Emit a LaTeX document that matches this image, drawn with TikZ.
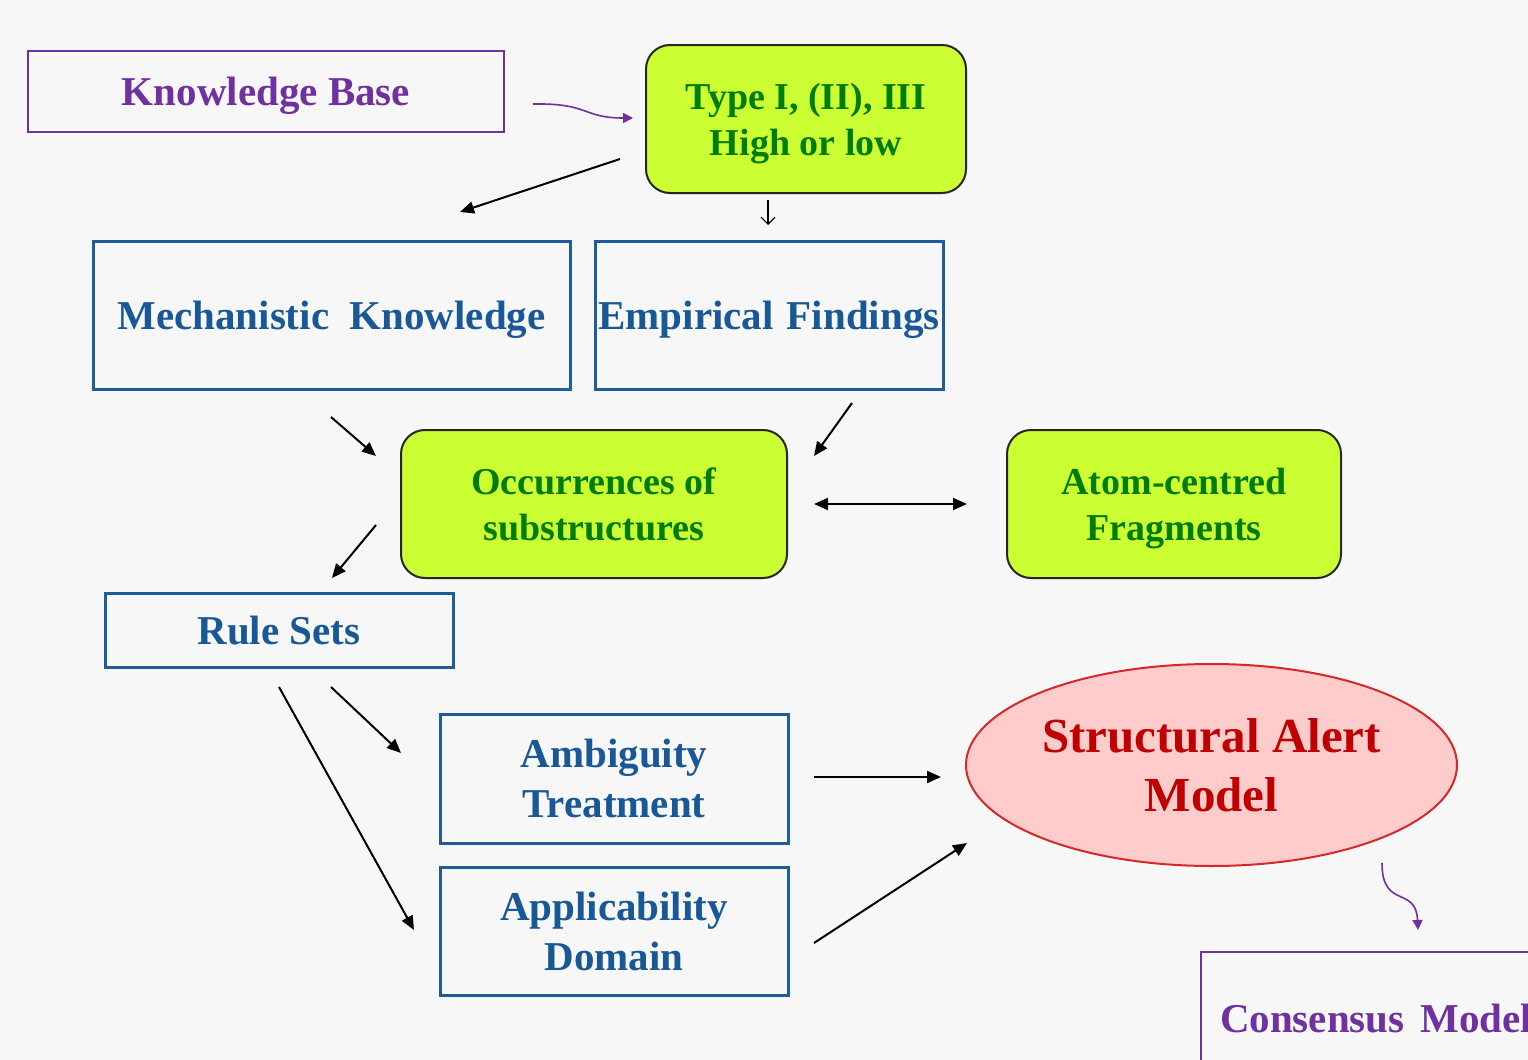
\documentclass[tikz,border=0pt]{standalone}
\usepackage{fontspec}
\setmainfont{Liberation Serif}
\usetikzlibrary{arrows.meta,positioning,shapes.geometric}

\definecolor{pagegray}{RGB}{247,247,247}
\definecolor{boxblue}{RGB}{31,92,155}
\definecolor{txtblue}{RGB}{24,88,150}
\definecolor{limefill}{RGB}{204,255,51}
\definecolor{txtgreen}{RGB}{0,125,0}
\definecolor{kbpurple}{RGB}{112,48,160}
\definecolor{alertred}{RGB}{192,0,0}
\definecolor{alertfill}{RGB}{255,204,204}
\definecolor{alertline}{RGB}{214,40,40}

\begin{document}
\begin{tikzpicture}[x=0.5pt,y=-0.5pt,>={Triangle[length=7pt,width=6pt]},line width=1pt,
    blue box/.style={draw=boxblue,line width=1.5pt,text=txtblue,font=\fontsize{20.5}{25}\selectfont\bfseries,align=center,inner sep=0pt,text depth=0pt},
    lime box/.style={draw=black!85,fill=limefill,rounded corners=12pt,text=txtgreen,font=\fontsize{19}{23}\selectfont\bfseries,align=center,inner sep=0pt,text depth=0pt},
    purple box/.style={draw=kbpurple,line width=1pt,text=kbpurple,font=\fontsize{20.5}{25}\selectfont\bfseries,inner sep=0pt,text depth=0pt},
    alert/.style={ellipse,draw=alertline,fill=alertfill,text=alertred,font=\fontsize{24.5}{29.5}\selectfont\bfseries,align=center,inner sep=0pt},
    flow/.style={->,black},
    wavy/.style={-{Triangle[length=5pt,width=5pt]},kbpurple,line width=0.8pt}]

    \fill[pagegray] (0,0) rectangle (1528,1060);
    \useasboundingbox (0,0) rectangle (1528,1060);
    \clip (0,0) rectangle (1528,1060);

    % boxes
    \node[purple box, minimum width=238pt, minimum height=40.5pt] (kb) at (266,91.5) {Knowledge Base};
    \node[lime box, minimum width=160pt, minimum height=74pt] (type) at (806,119) {Type I, (II), III\\High or low};
    \node[blue box, minimum width=238.5pt, minimum height=74pt] (mech) at (331.5,315) {Mechanistic\ \ Knowledge};
    \node[blue box, minimum width=174pt, minimum height=74pt] (emp) at (769,315) {Empirical\hspace{6.5pt}Findings};
    \node[lime box, minimum width=193pt, minimum height=74pt] (occ) at (594,504) {Occurrences of\\substructures};
    \node[lime box, minimum width=167pt, minimum height=74pt] (atom) at (1174,504) {Atom-centred\\Fragments};
    \node[blue box, minimum width=174pt, minimum height=37pt] (rules) at (279,630) {Rule Sets};
    \node[blue box, minimum width=174pt, minimum height=64.5pt] (amb) at (614,778.5) {Ambiguity\\Treatment};
    \node[blue box, minimum width=174pt, minimum height=64pt] (app) at (614,931) {Applicability\\Domain};
    \node[alert, minimum width=245.5pt, minimum height=101pt] (sam) at (1211.5,765) {Structural Alert\\Model};
    \node[purple box, anchor=north west, minimum width=220pt, minimum height=66pt, inner xsep=9.5pt, align=left, text width=201pt] (cons) at (1200,951) {Consensus\hspace{8pt}Model};

    % arrow ends
    \coordinate (kbR) at (533,104);
    \coordinate (typeL) at (633,118);
    \coordinate (typeA) at (620,159);
    \coordinate (mechT) at (460,212);
    \coordinate (typeB) at (768,200);
    \coordinate (empT) at (768,225);
    \coordinate (mechB) at (331,417);
    \coordinate (occTL) at (376,456);
    \coordinate (empB) at (852,403);
    \coordinate (occTR) at (814,456);
    \coordinate (occR) at (814,504);
    \coordinate (atomL) at (967,504);
    \coordinate (occBL) at (376,525);
    \coordinate (rulesT) at (332,578);
    \coordinate (rulesB1) at (331,687);
    \coordinate (ambL) at (401,753);
    \coordinate (rulesB2) at (279,687);
    \coordinate (appL) at (414,930);
    \coordinate (ambR) at (814,777);
    \coordinate (samL) at (941,777);
    \coordinate (appR) at (814,943);
    \coordinate (samBL) at (967,843);
    \coordinate (samB) at (1382,863);
    \coordinate (consT) at (1418,930);

    % connectors
    \draw[wavy] (kbR) .. controls (590,103) and (582,118) .. (typeL);
    \draw[flow] (typeA) -- (mechT);
    \draw[-{Straight Barb[length=3.5pt,width=7pt]},line width=0.6pt] (typeB) -- (empT);
    \draw[flow] (mechB) -- (occTL);
    \draw[flow] (empB) -- (occTR);
    \draw[<->] (occR) -- (atomL);
    \draw[flow] (occBL) -- (rulesT);
    \draw[flow] (rulesB1) -- (ambL);
    \draw[flow] (rulesB2) -- (appL);
    \draw[flow] (ambR) -- (samL);
    \draw[flow] (appR) -- (samBL);
    \draw[wavy] (samB) .. controls (1382,910) and (1416,885) .. (consT);
\end{tikzpicture}
\end{document}
